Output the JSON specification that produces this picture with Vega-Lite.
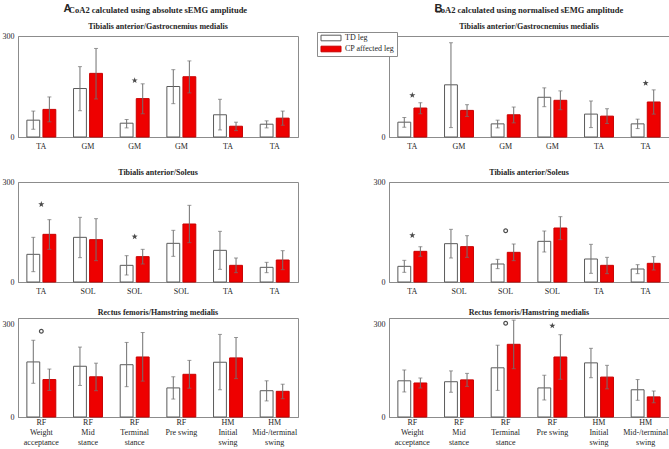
{
  "$schema": "https://vega.github.io/schema/vega-lite/v6.json",
  "padding": {"left": 1, "top": 3, "right": 0, "bottom": 0},
  "background": "white",
  "config": {
    "font": "Liberation Serif",
    "view": {"stroke": "#8c8c8c", "strokeWidth": 1},
    "axis": {"labelFont": "Liberation Serif", "labelFontSize": 8, "labelColor": "#262626", "domainColor": "#8c8c8c", "tickColor": "#8c8c8c", "grid": false, "title": null, "labelOverlap": false, "ticks": false},
    "title": {"font": "Liberation Serif", "fontSize": 8, "fontWeight": "bold", "color": "#262626", "offset": 1, "frame": "group", "subtitleFont": "Liberation Serif", "subtitleFontSize": 8, "subtitleFontWeight": "bold", "subtitleColor": "#262626", "subtitlePadding": 9}
  },
  "datasets": {
    "bars": [
      {"p": "A1", "g": "TA|Weight acceptance", "leg": "TD leg", "m": 50, "lo": 23, "hi": 77},
      {"p": "A1", "g": "TA|Weight acceptance", "leg": "CP affected leg", "m": 82, "lo": 45, "hi": 119},
      {"p": "A1", "g": "GM|Mid stance", "leg": "TD leg", "m": 144, "lo": 78, "hi": 209},
      {"p": "A1", "g": "GM|Mid stance", "leg": "CP affected leg", "m": 189, "lo": 113, "hi": 263},
      {"p": "A1", "g": "GM|Terminal stance", "leg": "TD leg", "m": 41, "lo": 27, "hi": 52},
      {"p": "A1", "g": "GM|Terminal stance", "leg": "CP affected leg", "m": 114, "lo": 69, "hi": 158},
      {"p": "A1", "g": "GM|Pre swing", "leg": "TD leg", "m": 150, "lo": 99, "hi": 200},
      {"p": "A1", "g": "GM|Pre swing", "leg": "CP affected leg", "m": 179, "lo": 131, "hi": 226},
      {"p": "A1", "g": "TA|Initial swing", "leg": "TD leg", "m": 66, "lo": 21, "hi": 112},
      {"p": "A1", "g": "TA|Initial swing", "leg": "CP affected leg", "m": 32, "lo": 19, "hi": 44},
      {"p": "A1", "g": "TA|Mid-/terminal swing", "leg": "TD leg", "m": 38, "lo": 27, "hi": 48},
      {"p": "A1", "g": "TA|Mid-/terminal swing", "leg": "CP affected leg", "m": 56, "lo": 35, "hi": 77},
      {"p": "B1", "g": "TA|Weight acceptance", "leg": "TD leg", "m": 44, "lo": 29, "hi": 58},
      {"p": "B1", "g": "TA|Weight acceptance", "leg": "CP affected leg", "m": 86, "lo": 69, "hi": 102},
      {"p": "B1", "g": "GM|Mid stance", "leg": "TD leg", "m": 155, "lo": 28, "hi": 280},
      {"p": "B1", "g": "GM|Mid stance", "leg": "CP affected leg", "m": 79, "lo": 61, "hi": 96},
      {"p": "B1", "g": "GM|Terminal stance", "leg": "TD leg", "m": 39, "lo": 27, "hi": 50},
      {"p": "B1", "g": "GM|Terminal stance", "leg": "CP affected leg", "m": 66, "lo": 42, "hi": 89},
      {"p": "B1", "g": "GM|Pre swing", "leg": "TD leg", "m": 118, "lo": 90, "hi": 146},
      {"p": "B1", "g": "GM|Pre swing", "leg": "CP affected leg", "m": 109, "lo": 81, "hi": 137},
      {"p": "B1", "g": "TA|Initial swing", "leg": "TD leg", "m": 68, "lo": 28, "hi": 107},
      {"p": "B1", "g": "TA|Initial swing", "leg": "CP affected leg", "m": 62, "lo": 40, "hi": 84},
      {"p": "B1", "g": "TA|Mid-/terminal swing", "leg": "TD leg", "m": 39, "lo": 25, "hi": 53},
      {"p": "B1", "g": "TA|Mid-/terminal swing", "leg": "CP affected leg", "m": 104, "lo": 68, "hi": 140},
      {"p": "A2", "g": "TA|Weight acceptance", "leg": "TD leg", "m": 83, "lo": 31, "hi": 134},
      {"p": "A2", "g": "TA|Weight acceptance", "leg": "CP affected leg", "m": 143, "lo": 98, "hi": 187},
      {"p": "A2", "g": "SOL|Mid stance", "leg": "TD leg", "m": 134, "lo": 73, "hi": 194},
      {"p": "A2", "g": "SOL|Mid stance", "leg": "CP affected leg", "m": 127, "lo": 64, "hi": 190},
      {"p": "A2", "g": "SOL|Terminal stance", "leg": "TD leg", "m": 50, "lo": 21, "hi": 79},
      {"p": "A2", "g": "SOL|Terminal stance", "leg": "CP affected leg", "m": 76, "lo": 54, "hi": 98},
      {"p": "A2", "g": "SOL|Pre swing", "leg": "TD leg", "m": 116, "lo": 77, "hi": 155},
      {"p": "A2", "g": "SOL|Pre swing", "leg": "CP affected leg", "m": 174, "lo": 118, "hi": 230},
      {"p": "A2", "g": "TA|Initial swing", "leg": "TD leg", "m": 95, "lo": 38, "hi": 152},
      {"p": "A2", "g": "TA|Initial swing", "leg": "CP affected leg", "m": 50, "lo": 28, "hi": 72},
      {"p": "A2", "g": "TA|Mid-/terminal swing", "leg": "TD leg", "m": 44, "lo": 28, "hi": 59},
      {"p": "A2", "g": "TA|Mid-/terminal swing", "leg": "CP affected leg", "m": 66, "lo": 37, "hi": 94},
      {"p": "B2", "g": "TA|Weight acceptance", "leg": "TD leg", "m": 47, "lo": 29, "hi": 65},
      {"p": "B2", "g": "TA|Weight acceptance", "leg": "CP affected leg", "m": 92, "lo": 77, "hi": 106},
      {"p": "B2", "g": "SOL|Mid stance", "leg": "TD leg", "m": 115, "lo": 72, "hi": 158},
      {"p": "B2", "g": "SOL|Mid stance", "leg": "CP affected leg", "m": 106, "lo": 74, "hi": 139},
      {"p": "B2", "g": "SOL|Terminal stance", "leg": "TD leg", "m": 54, "lo": 40, "hi": 68},
      {"p": "B2", "g": "SOL|Terminal stance", "leg": "CP affected leg", "m": 89, "lo": 64, "hi": 114},
      {"p": "B2", "g": "SOL|Pre swing", "leg": "TD leg", "m": 122, "lo": 90, "hi": 153},
      {"p": "B2", "g": "SOL|Pre swing", "leg": "CP affected leg", "m": 162, "lo": 127, "hi": 196},
      {"p": "B2", "g": "TA|Initial swing", "leg": "TD leg", "m": 69, "lo": 26, "hi": 113},
      {"p": "B2", "g": "TA|Initial swing", "leg": "CP affected leg", "m": 50, "lo": 25, "hi": 74},
      {"p": "B2", "g": "TA|Mid-/terminal swing", "leg": "TD leg", "m": 39, "lo": 25, "hi": 52},
      {"p": "B2", "g": "TA|Mid-/terminal swing", "leg": "CP affected leg", "m": 56, "lo": 36, "hi": 76},
      {"p": "A3", "g": "RF|Weight acceptance", "leg": "TD leg", "m": 178, "lo": 109, "hi": 248},
      {"p": "A3", "g": "RF|Weight acceptance", "leg": "CP affected leg", "m": 121, "lo": 86, "hi": 155},
      {"p": "A3", "g": "RF|Mid stance", "leg": "TD leg", "m": 164, "lo": 102, "hi": 226},
      {"p": "A3", "g": "RF|Mid stance", "leg": "CP affected leg", "m": 130, "lo": 85, "hi": 174},
      {"p": "A3", "g": "RF|Terminal stance", "leg": "TD leg", "m": 169, "lo": 98, "hi": 241},
      {"p": "A3", "g": "RF|Terminal stance", "leg": "CP affected leg", "m": 194, "lo": 116, "hi": 273},
      {"p": "A3", "g": "RF|Pre swing", "leg": "TD leg", "m": 94, "lo": 58, "hi": 130},
      {"p": "A3", "g": "RF|Pre swing", "leg": "CP affected leg", "m": 138, "lo": 93, "hi": 183},
      {"p": "A3", "g": "HM|Initial swing", "leg": "TD leg", "m": 177, "lo": 88, "hi": 267},
      {"p": "A3", "g": "HM|Initial swing", "leg": "CP affected leg", "m": 191, "lo": 124, "hi": 257},
      {"p": "A3", "g": "HM|Mid-/terminal swing", "leg": "TD leg", "m": 85, "lo": 52, "hi": 117},
      {"p": "A3", "g": "HM|Mid-/terminal swing", "leg": "CP affected leg", "m": 83, "lo": 59, "hi": 106},
      {"p": "B3", "g": "RF|Weight acceptance", "leg": "TD leg", "m": 117, "lo": 81, "hi": 152},
      {"p": "B3", "g": "RF|Weight acceptance", "leg": "CP affected leg", "m": 110, "lo": 94, "hi": 126},
      {"p": "B3", "g": "RF|Mid stance", "leg": "TD leg", "m": 114, "lo": 80, "hi": 149},
      {"p": "B3", "g": "RF|Mid stance", "leg": "CP affected leg", "m": 120, "lo": 99, "hi": 141},
      {"p": "B3", "g": "RF|Terminal stance", "leg": "TD leg", "m": 159, "lo": 86, "hi": 232},
      {"p": "B3", "g": "RF|Terminal stance", "leg": "CP affected leg", "m": 235, "lo": 156, "hi": 313},
      {"p": "B3", "g": "RF|Pre swing", "leg": "TD leg", "m": 94, "lo": 55, "hi": 135},
      {"p": "B3", "g": "RF|Pre swing", "leg": "CP affected leg", "m": 194, "lo": 122, "hi": 266},
      {"p": "B3", "g": "HM|Initial swing", "leg": "TD leg", "m": 175, "lo": 127, "hi": 222},
      {"p": "B3", "g": "HM|Initial swing", "leg": "CP affected leg", "m": 129, "lo": 91, "hi": 167},
      {"p": "B3", "g": "HM|Mid-/terminal swing", "leg": "TD leg", "m": 88, "lo": 54, "hi": 121},
      {"p": "B3", "g": "HM|Mid-/terminal swing", "leg": "CP affected leg", "m": 65, "lo": 46, "hi": 84}
    ],
    "sig": [
      {"p": "A1", "g": "GM|Terminal stance", "s": "star", "ys": 168},
      {"p": "B1", "g": "TA|Weight acceptance", "s": "star", "ys": 124},
      {"p": "B1", "g": "TA|Mid-/terminal swing", "s": "star", "ys": 160},
      {"p": "A2", "g": "TA|Weight acceptance", "s": "star", "ys": 233},
      {"p": "A2", "g": "SOL|Terminal stance", "s": "star", "ys": 136},
      {"p": "B2", "g": "TA|Weight acceptance", "s": "star", "ys": 140},
      {"p": "B2", "g": "SOL|Terminal stance", "s": "circle", "ys": 154},
      {"p": "A3", "g": "RF|Weight acceptance", "s": "circle", "ys": 277},
      {"p": "B3", "g": "RF|Terminal stance", "s": "circle", "ys": 303},
      {"p": "B3", "g": "RF|Pre swing", "s": "star", "ys": 295}
    ]
  },
  "hconcat": [
    {
      "title": {"text": "A", "font": "Liberation Sans", "fontSize": 11, "fontWeight": "bold", "anchor": "start", "frame": "bounds", "dx": 62, "offset": -9},
      "spacing": 12,
      "vconcat": [
        {
          "spacing": 17,
          "vconcat": [
            {
              "width": 280, "height": 101,
              "title": {"text": "CoA2 calculated using absolute sEMG amplitude", "subtitle": "Tibialis anterior/Gastrocnemius medialis", "fontSize": 8.5},
              "layer": [
                {"data": {"name": "bars"}, "transform": [{"filter": "datum.p === 'A1'"}],
                 "mark": {"type": "bar", "strokeWidth": 1},
                 "encoding": {
                   "x": {"field": "g", "type": "nominal", "scale": {"domain": ["TA|Weight acceptance", "GM|Mid stance", "GM|Terminal stance", "GM|Pre swing", "TA|Initial swing", "TA|Mid-/terminal swing"], "paddingInner": 0.38, "paddingOuter": 0.19}, "axis": {"labelAngle": 0, "labelPadding": 5, "labelBaseline": "top", "labelExpr": "substring(datum.value, 0, indexof(datum.value, '|'))"}},
                   "xOffset": {"field": "leg", "type": "nominal", "scale": {"domain": ["TD leg", "CP affected leg"], "paddingInner": 0.2}},
                   "y": {"field": "m", "type": "quantitative", "scale": {"domain": [0, 300], "nice": false}, "axis": {"values": [0, 50, 100, 150, 200, 250, 300], "labelPadding": 4}},
                   "fill": {"field": "leg", "type": "nominal", "scale": {"domain": ["TD leg", "CP affected leg"], "range": ["#ffffff", "#ee0000"]}, "legend": {"title": null, "orient": "none", "legendX": 299, "legendY": -4, "padding": 2, "rowPadding": 1, "strokeColor": "#8c8c8c", "fillColor": "white", "symbolType": "M-5,-1.4H5V1.4H-5Z", "symbolSize": 16, "symbolStrokeWidth": 1, "symbolOffset": 8, "labelOffset": 10, "labelFont": "Liberation Serif", "labelFontSize": 8, "labelColor": "#262626"}},
                   "stroke": {"field": "leg", "type": "nominal", "scale": {"domain": ["TD leg", "CP affected leg"], "range": ["#5a5a5a", "#c80000"]}, "legend": {"title": null, "orient": "none", "legendX": 299, "legendY": -4, "padding": 2, "rowPadding": 1, "strokeColor": "#8c8c8c", "fillColor": "white", "symbolType": "M-5,-1.4H5V1.4H-5Z", "symbolSize": 16, "symbolStrokeWidth": 1, "symbolOffset": 8, "labelOffset": 10, "labelFont": "Liberation Serif", "labelFontSize": 8, "labelColor": "#262626"}}
                 }},
                {"data": {"name": "bars"}, "transform": [{"filter": "datum.p === 'A1'"}],
                 "mark": {"type": "rule", "color": "#707070"},
                 "encoding": {"x": {"field": "g", "type": "nominal"}, "xOffset": {"field": "leg", "type": "nominal"}, "y": {"field": "lo", "type": "quantitative"}, "y2": {"field": "hi"}}},
                {"data": {"name": "bars"}, "transform": [{"filter": "datum.p === 'A1'"}],
                 "mark": {"type": "tick", "color": "#707070", "size": 4, "thickness": 1, "orient": "horizontal"},
                 "encoding": {"x": {"field": "g", "type": "nominal"}, "xOffset": {"field": "leg", "type": "nominal"}, "y": {"field": "hi", "type": "quantitative"}}},
                {"data": {"name": "bars"}, "transform": [{"filter": "datum.p === 'A1'"}],
                 "mark": {"type": "tick", "color": "#707070", "size": 4, "thickness": 1, "orient": "horizontal"},
                 "encoding": {"x": {"field": "g", "type": "nominal"}, "xOffset": {"field": "leg", "type": "nominal"}, "y": {"field": "lo", "type": "quantitative"}}},
                {"data": {"name": "sig"}, "transform": [{"filter": "datum.p === 'A1' && datum.s === 'star'"}],
                 "mark": {"type": "point", "shape": "M0,-1L0.235,-0.324L0.951,-0.309L0.38,0.124L0.588,0.809L0,0.4L-0.588,0.809L-0.38,0.124L-0.951,-0.309L-0.235,-0.324Z", "filled": true, "color": "black", "size": 42},
                 "encoding": {"x": {"field": "g", "type": "nominal"}, "y": {"field": "ys", "type": "quantitative"}}}
              ]
            },
            {
              "width": 280, "height": 100,
              "title": {"text": "Tibialis anterior/Soleus"},
              "layer": [
                {"data": {"name": "bars"}, "transform": [{"filter": "datum.p === 'A2'"}],
                 "mark": {"type": "bar", "strokeWidth": 1},
                 "encoding": {
                   "x": {"field": "g", "type": "nominal", "scale": {"domain": ["TA|Weight acceptance", "SOL|Mid stance", "SOL|Terminal stance", "SOL|Pre swing", "TA|Initial swing", "TA|Mid-/terminal swing"], "paddingInner": 0.38, "paddingOuter": 0.19}, "axis": {"labelAngle": 0, "labelPadding": 5, "labelBaseline": "top", "labelExpr": "substring(datum.value, 0, indexof(datum.value, '|'))"}},
                   "xOffset": {"field": "leg", "type": "nominal", "scale": {"domain": ["TD leg", "CP affected leg"], "paddingInner": 0.2}},
                   "y": {"field": "m", "type": "quantitative", "scale": {"domain": [0, 300], "nice": false}, "axis": {"values": [0, 50, 100, 150, 200, 250, 300], "labelPadding": 4}},
                   "fill": {"field": "leg", "type": "nominal"},
                   "stroke": {"field": "leg", "type": "nominal"}
                 }},
                {"data": {"name": "bars"}, "transform": [{"filter": "datum.p === 'A2'"}],
                 "mark": {"type": "rule", "color": "#707070"},
                 "encoding": {"x": {"field": "g", "type": "nominal"}, "xOffset": {"field": "leg", "type": "nominal"}, "y": {"field": "lo", "type": "quantitative"}, "y2": {"field": "hi"}}},
                {"data": {"name": "bars"}, "transform": [{"filter": "datum.p === 'A2'"}],
                 "mark": {"type": "tick", "color": "#707070", "size": 4, "thickness": 1, "orient": "horizontal"},
                 "encoding": {"x": {"field": "g", "type": "nominal"}, "xOffset": {"field": "leg", "type": "nominal"}, "y": {"field": "hi", "type": "quantitative"}}},
                {"data": {"name": "bars"}, "transform": [{"filter": "datum.p === 'A2'"}],
                 "mark": {"type": "tick", "color": "#707070", "size": 4, "thickness": 1, "orient": "horizontal"},
                 "encoding": {"x": {"field": "g", "type": "nominal"}, "xOffset": {"field": "leg", "type": "nominal"}, "y": {"field": "lo", "type": "quantitative"}}},
                {"data": {"name": "sig"}, "transform": [{"filter": "datum.p === 'A2' && datum.s === 'star'"}],
                 "mark": {"type": "point", "shape": "M0,-1L0.235,-0.324L0.951,-0.309L0.38,0.124L0.588,0.809L0,0.4L-0.588,0.809L-0.38,0.124L-0.951,-0.309L-0.235,-0.324Z", "filled": true, "color": "black", "size": 42},
                 "encoding": {"x": {"field": "g", "type": "nominal"}, "y": {"field": "ys", "type": "quantitative"}}}
              ]
            }
          ]
        },
        {
          "width": 280, "height": 99,
          "title": {"text": "Rectus femoris/Hamstring medialis"},
          "layer": [
            {"data": {"name": "bars"}, "transform": [{"filter": "datum.p === 'A3'"}],
             "mark": {"type": "bar", "strokeWidth": 1},
             "encoding": {
               "x": {"field": "g", "type": "nominal", "scale": {"domain": ["RF|Weight acceptance", "RF|Mid stance", "RF|Terminal stance", "RF|Pre swing", "HM|Initial swing", "HM|Mid-/terminal swing"], "paddingInner": 0.38, "paddingOuter": 0.19}, "axis": {"labelAngle": 0, "labelPadding": 1, "labelBaseline": "top", "labelLineHeight": 10, "labelExpr": "substring(datum.value, indexof(datum.value, '|') + 1) === 'Pre swing' ? [substring(datum.value, 0, indexof(datum.value, '|')), '', 'Pre swing'] : [substring(datum.value, 0, indexof(datum.value, '|')), '', substring(datum.value, indexof(datum.value, '|') + 1, lastindexof(datum.value, ' ')), substring(datum.value, lastindexof(datum.value, ' ') + 1)]"}},
               "xOffset": {"field": "leg", "type": "nominal", "scale": {"domain": ["TD leg", "CP affected leg"], "paddingInner": 0.2}},
               "y": {"field": "m", "type": "quantitative", "scale": {"domain": [0, 320], "nice": false}, "axis": {"values": [0, 50, 100, 150, 200, 250, 300], "labelPadding": 4}},
               "fill": {"field": "leg", "type": "nominal"},
               "stroke": {"field": "leg", "type": "nominal"}
             }},
            {"data": {"name": "bars"}, "transform": [{"filter": "datum.p === 'A3'"}],
             "mark": {"type": "rule", "color": "#707070"},
             "encoding": {"x": {"field": "g", "type": "nominal"}, "xOffset": {"field": "leg", "type": "nominal"}, "y": {"field": "lo", "type": "quantitative"}, "y2": {"field": "hi"}}},
            {"data": {"name": "bars"}, "transform": [{"filter": "datum.p === 'A3'"}],
             "mark": {"type": "tick", "color": "#707070", "size": 4, "thickness": 1, "orient": "horizontal"},
             "encoding": {"x": {"field": "g", "type": "nominal"}, "xOffset": {"field": "leg", "type": "nominal"}, "y": {"field": "hi", "type": "quantitative"}}},
            {"data": {"name": "bars"}, "transform": [{"filter": "datum.p === 'A3'"}],
             "mark": {"type": "tick", "color": "#707070", "size": 4, "thickness": 1, "orient": "horizontal"},
             "encoding": {"x": {"field": "g", "type": "nominal"}, "xOffset": {"field": "leg", "type": "nominal"}, "y": {"field": "lo", "type": "quantitative"}}},
            {"data": {"name": "sig"}, "transform": [{"filter": "datum.p === 'A3' && datum.s === 'circle'"}],
             "mark": {"type": "point", "shape": "circle", "filled": false, "color": "black", "strokeWidth": 1.2, "size": 14},
             "encoding": {"x": {"field": "g", "type": "nominal"}, "y": {"field": "ys", "type": "quantitative"}}}
          ]
        }
      ]
    },
    {
      "title": {"text": "B", "font": "Liberation Sans", "fontSize": 11, "fontWeight": "bold", "anchor": "start", "frame": "bounds", "dx": 62, "offset": -9},
      "spacing": 12,
      "vconcat": [
        {
          "spacing": 17,
          "vconcat": [
            {
              "width": 280, "height": 101,
              "title": {"text": "CoA2 calculated using normalised sEMG amplitude", "subtitle": "Tibialis anterior/Gastrocnemius medialis", "fontSize": 8.5},
              "layer": [
                {"data": {"name": "bars"}, "transform": [{"filter": "datum.p === 'B1'"}],
                 "mark": {"type": "bar", "strokeWidth": 1},
                 "encoding": {
                   "x": {"field": "g", "type": "nominal", "scale": {"domain": ["TA|Weight acceptance", "GM|Mid stance", "GM|Terminal stance", "GM|Pre swing", "TA|Initial swing", "TA|Mid-/terminal swing"], "paddingInner": 0.38, "paddingOuter": 0.19}, "axis": {"labelAngle": 0, "labelPadding": 5, "labelBaseline": "top", "labelExpr": "substring(datum.value, 0, indexof(datum.value, '|'))"}},
                   "xOffset": {"field": "leg", "type": "nominal", "scale": {"domain": ["TD leg", "CP affected leg"], "paddingInner": 0.2}},
                   "y": {"field": "m", "type": "quantitative", "scale": {"domain": [0, 300], "nice": false}, "axis": {"values": [0, 50, 100, 150, 200, 250, 300], "labelPadding": 4}},
                   "fill": {"field": "leg", "type": "nominal"},
                   "stroke": {"field": "leg", "type": "nominal"}
                 }},
                {"data": {"name": "bars"}, "transform": [{"filter": "datum.p === 'B1'"}],
                 "mark": {"type": "rule", "color": "#707070"},
                 "encoding": {"x": {"field": "g", "type": "nominal"}, "xOffset": {"field": "leg", "type": "nominal"}, "y": {"field": "lo", "type": "quantitative"}, "y2": {"field": "hi"}}},
                {"data": {"name": "bars"}, "transform": [{"filter": "datum.p === 'B1'"}],
                 "mark": {"type": "tick", "color": "#707070", "size": 4, "thickness": 1, "orient": "horizontal"},
                 "encoding": {"x": {"field": "g", "type": "nominal"}, "xOffset": {"field": "leg", "type": "nominal"}, "y": {"field": "hi", "type": "quantitative"}}},
                {"data": {"name": "bars"}, "transform": [{"filter": "datum.p === 'B1'"}],
                 "mark": {"type": "tick", "color": "#707070", "size": 4, "thickness": 1, "orient": "horizontal"},
                 "encoding": {"x": {"field": "g", "type": "nominal"}, "xOffset": {"field": "leg", "type": "nominal"}, "y": {"field": "lo", "type": "quantitative"}}},
                {"data": {"name": "sig"}, "transform": [{"filter": "datum.p === 'B1' && datum.s === 'star'"}],
                 "mark": {"type": "point", "shape": "M0,-1L0.235,-0.324L0.951,-0.309L0.38,0.124L0.588,0.809L0,0.4L-0.588,0.809L-0.38,0.124L-0.951,-0.309L-0.235,-0.324Z", "filled": true, "color": "black", "size": 42},
                 "encoding": {"x": {"field": "g", "type": "nominal"}, "y": {"field": "ys", "type": "quantitative"}}}
              ]
            },
            {
              "width": 280, "height": 100,
              "title": {"text": "Tibialis anterior/Soleus"},
              "layer": [
                {"data": {"name": "bars"}, "transform": [{"filter": "datum.p === 'B2'"}],
                 "mark": {"type": "bar", "strokeWidth": 1},
                 "encoding": {
                   "x": {"field": "g", "type": "nominal", "scale": {"domain": ["TA|Weight acceptance", "SOL|Mid stance", "SOL|Terminal stance", "SOL|Pre swing", "TA|Initial swing", "TA|Mid-/terminal swing"], "paddingInner": 0.38, "paddingOuter": 0.19}, "axis": {"labelAngle": 0, "labelPadding": 5, "labelBaseline": "top", "labelExpr": "substring(datum.value, 0, indexof(datum.value, '|'))"}},
                   "xOffset": {"field": "leg", "type": "nominal", "scale": {"domain": ["TD leg", "CP affected leg"], "paddingInner": 0.2}},
                   "y": {"field": "m", "type": "quantitative", "scale": {"domain": [0, 300], "nice": false}, "axis": {"values": [0, 50, 100, 150, 200, 250, 300], "labelPadding": 4}},
                   "fill": {"field": "leg", "type": "nominal"},
                   "stroke": {"field": "leg", "type": "nominal"}
                 }},
                {"data": {"name": "bars"}, "transform": [{"filter": "datum.p === 'B2'"}],
                 "mark": {"type": "rule", "color": "#707070"},
                 "encoding": {"x": {"field": "g", "type": "nominal"}, "xOffset": {"field": "leg", "type": "nominal"}, "y": {"field": "lo", "type": "quantitative"}, "y2": {"field": "hi"}}},
                {"data": {"name": "bars"}, "transform": [{"filter": "datum.p === 'B2'"}],
                 "mark": {"type": "tick", "color": "#707070", "size": 4, "thickness": 1, "orient": "horizontal"},
                 "encoding": {"x": {"field": "g", "type": "nominal"}, "xOffset": {"field": "leg", "type": "nominal"}, "y": {"field": "hi", "type": "quantitative"}}},
                {"data": {"name": "bars"}, "transform": [{"filter": "datum.p === 'B2'"}],
                 "mark": {"type": "tick", "color": "#707070", "size": 4, "thickness": 1, "orient": "horizontal"},
                 "encoding": {"x": {"field": "g", "type": "nominal"}, "xOffset": {"field": "leg", "type": "nominal"}, "y": {"field": "lo", "type": "quantitative"}}},
                {"data": {"name": "sig"}, "transform": [{"filter": "datum.p === 'B2' && datum.s === 'star'"}],
                 "mark": {"type": "point", "shape": "M0,-1L0.235,-0.324L0.951,-0.309L0.38,0.124L0.588,0.809L0,0.4L-0.588,0.809L-0.38,0.124L-0.951,-0.309L-0.235,-0.324Z", "filled": true, "color": "black", "size": 42},
                 "encoding": {"x": {"field": "g", "type": "nominal"}, "y": {"field": "ys", "type": "quantitative"}}},
                {"data": {"name": "sig"}, "transform": [{"filter": "datum.p === 'B2' && datum.s === 'circle'"}],
                 "mark": {"type": "point", "shape": "circle", "filled": false, "color": "black", "strokeWidth": 1.2, "size": 14},
                 "encoding": {"x": {"field": "g", "type": "nominal"}, "y": {"field": "ys", "type": "quantitative"}}}
              ]
            }
          ]
        },
        {
          "width": 280, "height": 99,
          "title": {"text": "Rectus femoris/Hamstring medialis"},
          "layer": [
            {"data": {"name": "bars"}, "transform": [{"filter": "datum.p === 'B3'"}],
             "mark": {"type": "bar", "strokeWidth": 1},
             "encoding": {
               "x": {"field": "g", "type": "nominal", "scale": {"domain": ["RF|Weight acceptance", "RF|Mid stance", "RF|Terminal stance", "RF|Pre swing", "HM|Initial swing", "HM|Mid-/terminal swing"], "paddingInner": 0.38, "paddingOuter": 0.19}, "axis": {"labelAngle": 0, "labelPadding": 1, "labelBaseline": "top", "labelLineHeight": 10, "labelExpr": "substring(datum.value, indexof(datum.value, '|') + 1) === 'Pre swing' ? [substring(datum.value, 0, indexof(datum.value, '|')), '', 'Pre swing'] : [substring(datum.value, 0, indexof(datum.value, '|')), '', substring(datum.value, indexof(datum.value, '|') + 1, lastindexof(datum.value, ' ')), substring(datum.value, lastindexof(datum.value, ' ') + 1)]"}},
               "xOffset": {"field": "leg", "type": "nominal", "scale": {"domain": ["TD leg", "CP affected leg"], "paddingInner": 0.2}},
               "y": {"field": "m", "type": "quantitative", "scale": {"domain": [0, 320], "nice": false}, "axis": {"values": [0, 50, 100, 150, 200, 250, 300], "labelPadding": 4}},
               "fill": {"field": "leg", "type": "nominal"},
               "stroke": {"field": "leg", "type": "nominal"}
             }},
            {"data": {"name": "bars"}, "transform": [{"filter": "datum.p === 'B3'"}],
             "mark": {"type": "rule", "color": "#707070"},
             "encoding": {"x": {"field": "g", "type": "nominal"}, "xOffset": {"field": "leg", "type": "nominal"}, "y": {"field": "lo", "type": "quantitative"}, "y2": {"field": "hi"}}},
            {"data": {"name": "bars"}, "transform": [{"filter": "datum.p === 'B3'"}],
             "mark": {"type": "tick", "color": "#707070", "size": 4, "thickness": 1, "orient": "horizontal"},
             "encoding": {"x": {"field": "g", "type": "nominal"}, "xOffset": {"field": "leg", "type": "nominal"}, "y": {"field": "hi", "type": "quantitative"}}},
            {"data": {"name": "bars"}, "transform": [{"filter": "datum.p === 'B3'"}],
             "mark": {"type": "tick", "color": "#707070", "size": 4, "thickness": 1, "orient": "horizontal"},
             "encoding": {"x": {"field": "g", "type": "nominal"}, "xOffset": {"field": "leg", "type": "nominal"}, "y": {"field": "lo", "type": "quantitative"}}},
            {"data": {"name": "sig"}, "transform": [{"filter": "datum.p === 'B3' && datum.s === 'star'"}],
             "mark": {"type": "point", "shape": "M0,-1L0.235,-0.324L0.951,-0.309L0.38,0.124L0.588,0.809L0,0.4L-0.588,0.809L-0.38,0.124L-0.951,-0.309L-0.235,-0.324Z", "filled": true, "color": "black", "size": 42},
             "encoding": {"x": {"field": "g", "type": "nominal"}, "y": {"field": "ys", "type": "quantitative"}}},
            {"data": {"name": "sig"}, "transform": [{"filter": "datum.p === 'B3' && datum.s === 'circle'"}],
             "mark": {"type": "point", "shape": "circle", "filled": false, "color": "black", "strokeWidth": 1.2, "size": 14},
             "encoding": {"x": {"field": "g", "type": "nominal"}, "y": {"field": "ys", "type": "quantitative"}}}
          ]
        }
      ]
    }
  ],
  "spacing": 73
}
